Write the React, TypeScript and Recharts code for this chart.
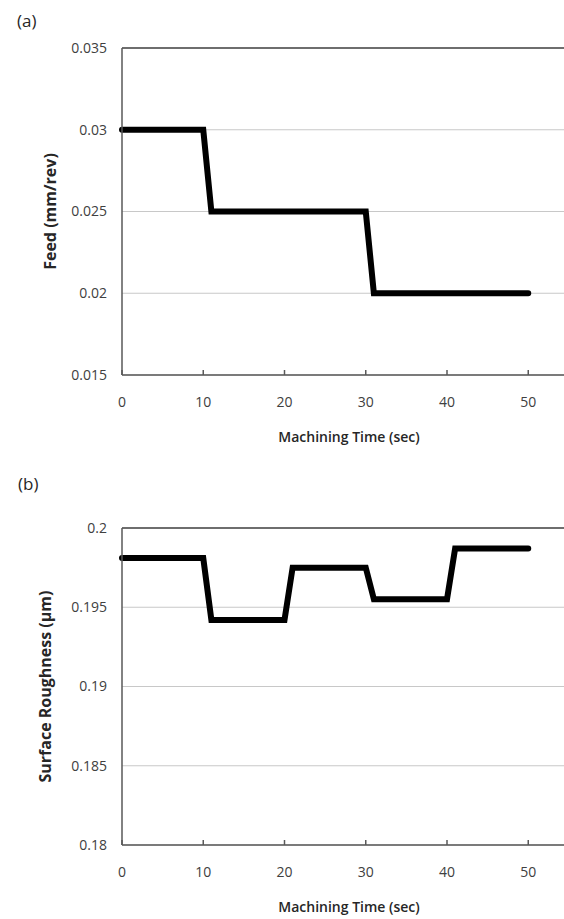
import React from "react";
import {
  LineChart,
  Line,
  XAxis,
  YAxis,
  CartesianGrid,
  ReferenceLine,
  Label,
} from "recharts";

const FONT = '"Open Sans", sans-serif';

// (a) feed rate over machining time
const feedTime = [0, 10, 11, 30, 31, 50];
const feedValues = [0.03, 0.03, 0.025, 0.025, 0.02, 0.02];
const feedTicks = [0.015, 0.02, 0.025, 0.03, 0.035];

// (b) surface roughness over machining time
const roughTime = [0, 10, 11, 20, 21, 30, 31, 40, 41, 50];
const roughValues = [
  0.1981, 0.1981, 0.1942, 0.1942, 0.1975, 0.1975, 0.1955, 0.1955, 0.1987,
  0.1987,
];
const roughTicks = [0.18, 0.185, 0.19, 0.195, 0.2];

const timeTicks = [0, 10, 20, 30, 40, 50];

const feedData = feedTime.map((t, i) => ({ t, v: feedValues[i] }));
const roughData = roughTime.map((t, i) => ({ t, v: roughValues[i] }));

const TICK_GAP = 22;

// x ticks point inwards (Excel style), so draw line + label ourselves
const XTick = (props: any) => {
  const { x, y, payload } = props;
  const axisY = y - TICK_GAP;
  return (
    <g>
      <line
        x1={x}
        x2={x}
        y1={axisY}
        y2={axisY - 5}
        stroke="#595959"
        strokeWidth={1.5}
      />
      <text
        x={x}
        y={y}
        dy="0.71em"
        textAnchor="middle"
        fontSize={14}
        fill="#404040"
        fontFamily={FONT}
      >
        {payload.value}
      </text>
    </g>
  );
};

interface PanelProps {
  data: { t: number; v: number }[];
  ticks: number[];
  yTitle: string;
  yTitleX: number;
  plotHeight: number;
}

function Panel({ data, ticks, yTitle, yTitleX, plotHeight }: PanelProps) {
  const top = 40;
  const xAxisH = 75;
  return (
    <LineChart
      width={556}
      height={top + plotHeight + xAxisH}
      data={data}
      margin={{ top, right: 0, bottom: 0, left: 0 }}
    >
      <CartesianGrid vertical={false} stroke="#c8c8c8" strokeWidth={1.2} />
      <XAxis
        type="number"
        dataKey="t"
        domain={[0, 54.4]}
        ticks={timeTicks}
        height={xAxisH}
        tickSize={0}
        tickMargin={TICK_GAP}
        tickLine={false}
        tick={<XTick />}
        axisLine={{ stroke: "#595959", strokeWidth: 1.5 }}
      >
        <Label
          value="Machining Time (sec)"
          position="insideBottom"
          offset={8}
          dx={6}
          style={{ fontFamily: FONT, fontSize: 14, fontWeight: 600, fill: "#262626" }}
        />
      </XAxis>
      <YAxis
        type="number"
        domain={[ticks[0], ticks[ticks.length - 1]]}
        ticks={ticks}
        width={114}
        tickSize={0}
        tickMargin={15}
        tickLine={false}
        tickFormatter={(v: number) => String(v)}
        tick={{ fontSize: 14, fill: "#404040", fontFamily: FONT }}
        axisLine={{ stroke: "#595959", strokeWidth: 1.5 }}
      >
        <Label
          value={yTitle}
          angle={-90}
          position="insideLeft"
          offset={yTitleX}
          style={{
            textAnchor: "middle",
            fontFamily: FONT,
            fontSize: 16,
            fontWeight: 700,
            fill: "#262626",
          }}
        />
      </YAxis>
      <ReferenceLine
        y={ticks[ticks.length - 1]}
        stroke="#6e6e6e"
        strokeWidth={1.8}
      />
      <Line
        type="linear"
        dataKey="v"
        stroke="#000"
        strokeWidth={6}
        strokeLinecap="round"
        dot={false}
        isAnimationActive={false}
      />
    </LineChart>
  );
}

export default function App() {
  return (
    <div
      style={{
        position: "fixed",
        left: 0,
        top: 0,
        width: 564,
        height: 919,
        overflow: "hidden",
        fontFamily: FONT,
        background: "#fff",
      }}
    >
      <div
        style={{
          position: "absolute",
          left: 17,
          top: 11,
          fontSize: 17,
          lineHeight: "20px",
          color: "#262626",
        }}
      >
        (a)
      </div>
      <div style={{ position: "absolute", left: 8, top: 8 }}>
        <Panel
          data={feedData}
          ticks={feedTicks}
          yTitle="Feed (mm/rev)"
          yTitleX={42}
          plotHeight={327}
        />
      </div>
      <div
        style={{
          position: "absolute",
          left: 18,
          top: 474,
          fontSize: 17,
          lineHeight: "20px",
          color: "#262626",
        }}
      >
        (b)
      </div>
      <div style={{ position: "absolute", left: 8, top: 488 }}>
        <Panel
          data={roughData}
          ticks={roughTicks}
          yTitle="Surface Roughness (µm)"
          yTitleX={37}
          plotHeight={317}
        />
      </div>
    </div>
  );
}
